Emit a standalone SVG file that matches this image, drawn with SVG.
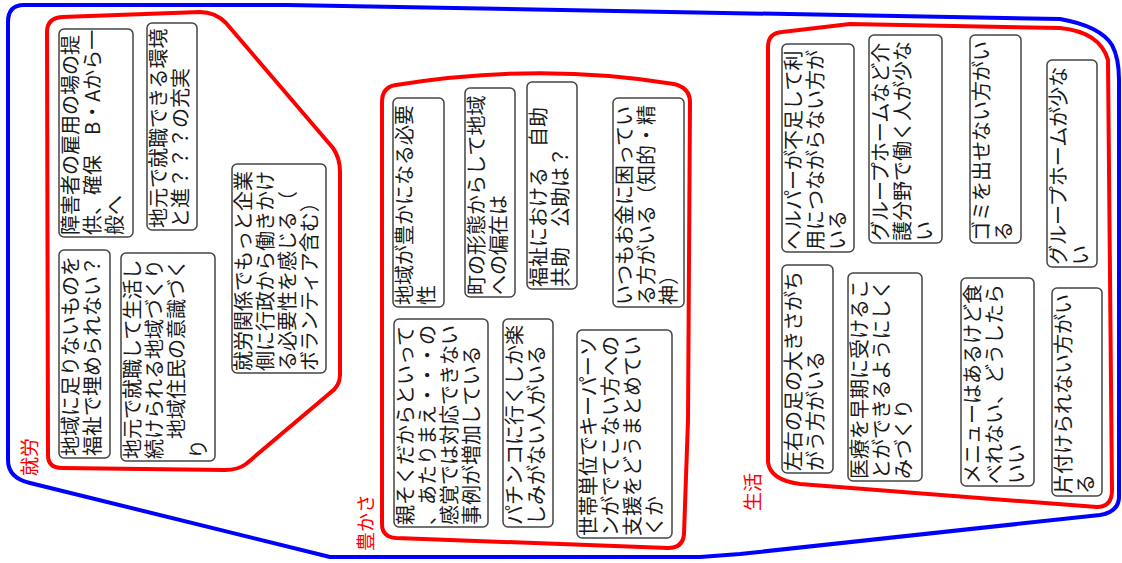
<svg xmlns="http://www.w3.org/2000/svg" width="1122" height="563" viewBox="0 0 1122 563">
<style>
.box{fill:#fff;stroke:#444;stroke-width:1.5}
.t{font-family:"Noto Sans CJK JP","Noto Sans CJK SC",sans-serif;font-size:20px;fill:#1a1a1a}
.grp{fill:none;stroke:#f00;stroke-width:4;stroke-linejoin:round}
.outer{fill:none;stroke:#00f;stroke-width:4;stroke-linejoin:round}
.lbl{font-family:"Noto Sans CJK JP","Noto Sans CJK SC",sans-serif;font-size:19px;fill:#f00}
</style>
<rect width="1122" height="563" fill="#fff"/>
<g id="groups">
<path id="g-outer" class="outer" d="M8,22 Q8,5 24,5 L287,5 L1060,19 Q1100,26 1112,45 Q1119,58 1119,80 L1119,498 Q1118,512 1100,515 L740,554 L700,557 L330,557 L30,483 Q8,478 8,460 Z"/>
<path id="g-work" class="grp" d="M47,32 Q47,18 62,17 L200,12 Q215,12 226,23 L333,148 Q340,158 340,172 L340,375 Q340,386 330,393 L246,464 Q238,470 225,470 L62,468 Q48,468 48,455 Z"/>
<path id="g-rich" class="grp" d="M382,102 Q382,87 396,85 Q540,62 674,84 Q690,88 690,102 L688,420 L684,534 Q683,548 668,548 L396,538 Q382,537 382,524 Z"/>
<path id="g-life" class="grp" d="M768,47 Q768,33 782,32 L850,24 L1060,28 Q1100,32 1108,60 L1112,490 Q1112,507 1097,507 L800,484 Q770,480 768,462 Z"/>
<text class="lbl" transform="translate(37,476) rotate(-90)">就労</text>
<text class="lbl" transform="translate(373,551) rotate(-90)">豊かさ</text>
<text class="lbl" transform="translate(760,511) rotate(-90)">生活</text>
</g>
<g id="connectors"></g>
<g id="n-a"><rect class="box" x="59" y="29" width="74" height="208" rx="5"/><text class="t" transform="translate(78,235) rotate(-90)"><tspan x="0" y="0">障害者の雇用の場の提</tspan><tspan x="0" y="22">供、確保　B・Aから一</tspan><tspan x="0" y="44">般へ</tspan></text></g>
<g id="n-b"><rect class="box" x="147" y="23" width="50" height="207" rx="5"/><text class="t" transform="translate(166,228) rotate(-90)"><tspan x="0" y="0">地元で就職できる環境</tspan><tspan x="0" y="22">と進？？？の充実</tspan></text></g>
<g id="n-c"><rect class="box" x="232" y="164" width="94" height="209" rx="5"/><text class="t" transform="translate(251,371) rotate(-90)"><tspan x="0" y="0">就労関係でもっと企業</tspan><tspan x="0" y="22">側に行政から働きかけ</tspan><tspan x="0" y="44">る必要性を感じる（</tspan><tspan x="0" y="66">ボランティア含む）</tspan></text></g>
<g id="n-d"><rect class="box" x="59" y="250" width="51" height="208" rx="5"/><text class="t" transform="translate(78,456) rotate(-90)"><tspan x="0" y="0">地域に足りないものを</tspan><tspan x="0" y="22">福祉で埋められない？</tspan></text></g>
<g id="n-e"><rect class="box" x="121" y="253" width="94" height="208" rx="5"/><text class="t" transform="translate(140,459) rotate(-90)"><tspan x="0" y="0">地元で就職して生活し</tspan><tspan x="0" y="22">続けられる地域づくり</tspan><tspan x="0" y="44">　地域住民の意識づく</tspan><tspan x="0" y="66">り</tspan></text></g>
<g id="n-f"><rect class="box" x="393" y="98" width="51" height="209" rx="5"/><text class="t" transform="translate(412,305) rotate(-90)"><tspan x="0" y="0">地域が豊かになる必要</tspan><tspan x="0" y="22">性</tspan></text></g>
<g id="n-g"><rect class="box" x="465" y="88" width="50" height="209" rx="5"/><text class="t" transform="translate(484,295) rotate(-90)"><tspan x="0" y="0">町の形態からして地域</tspan><tspan x="0" y="22">への偏在は</tspan></text></g>
<g id="n-h"><rect class="box" x="527" y="82" width="50" height="207" rx="5"/><text class="t" transform="translate(546,287) rotate(-90)"><tspan x="0" y="0">福祉における　自助</tspan><tspan x="0" y="22">共助　公助は？</tspan></text></g>
<g id="n-i"><rect class="box" x="613" y="98" width="71" height="209" rx="5"/><text class="t" transform="translate(632,305) rotate(-90)"><tspan x="0" y="0">いつもお金に困ってい</tspan><tspan x="0" y="22">る方がいる（知的・精</tspan><tspan x="0" y="44">神）</tspan></text></g>
<g id="n-j"><rect class="box" x="394" y="319" width="94" height="208" rx="5"/><text class="t" transform="translate(413,525) rotate(-90)"><tspan x="0" y="0">親そくだからといって</tspan><tspan x="0" y="22">、あたりまえ・・・の</tspan><tspan x="0" y="44">感覚では対応できない</tspan><tspan x="0" y="66">事例が増加している</tspan></text></g>
<g id="n-k"><rect class="box" x="503" y="319" width="50" height="208" rx="5"/><text class="t" transform="translate(522,525) rotate(-90)"><tspan x="0" y="0">パチンコに行くしか楽</tspan><tspan x="0" y="22">しみがない人がいる</tspan></text></g>
<g id="n-l"><rect class="box" x="577" y="330" width="95" height="208" rx="5"/><text class="t" transform="translate(596,536) rotate(-90)"><tspan x="0" y="0">世帯単位でキーパーソ</tspan><tspan x="0" y="22">ンがでてこない方への</tspan><tspan x="0" y="44">支援をどうまとめてい</tspan><tspan x="0" y="66">くか</tspan></text></g>
<g id="n-m"><rect class="box" x="782" y="44" width="72" height="208" rx="5"/><text class="t" transform="translate(801,250) rotate(-90)"><tspan x="0" y="0">ヘルパーが不足して利</tspan><tspan x="0" y="22">用につながらない方が</tspan><tspan x="0" y="44">いる</tspan></text></g>
<g id="n-n"><rect class="box" x="869" y="35" width="73" height="208" rx="5"/><text class="t" transform="translate(888,241) rotate(-90)"><tspan x="0" y="0">グループホームなど介</tspan><tspan x="0" y="22">護分野で働く人が少な</tspan><tspan x="0" y="44">い</tspan></text></g>
<g id="n-o"><rect class="box" x="970" y="35" width="51" height="208" rx="5"/><text class="t" transform="translate(989,241) rotate(-90)"><tspan x="0" y="0">ゴミを出せない方がい</tspan><tspan x="0" y="22">る</tspan></text></g>
<g id="n-p"><rect class="box" x="1047" y="60" width="50" height="207" rx="5"/><text class="t" transform="translate(1066,265) rotate(-90)"><tspan x="0" y="0">グループホームが少な</tspan><tspan x="0" y="22">い</tspan></text></g>
<g id="n-q"><rect class="box" x="782" y="265" width="51" height="208" rx="5"/><text class="t" transform="translate(801,471) rotate(-90)"><tspan x="0" y="0">左右の足の大きさがち</tspan><tspan x="0" y="22">がう方がいる</tspan></text></g>
<g id="n-r"><rect class="box" x="848" y="273" width="74" height="208" rx="5"/><text class="t" transform="translate(867,479) rotate(-90)"><tspan x="0" y="0">医療を早期に受けるこ</tspan><tspan x="0" y="22">とができるようにしく</tspan><tspan x="0" y="44">みづくり</tspan></text></g>
<g id="n-s"><rect class="box" x="961" y="278" width="73" height="208" rx="5"/><text class="t" transform="translate(980,484) rotate(-90)"><tspan x="0" y="0">メニューはあるけど食</tspan><tspan x="0" y="22">べれない、どうしたら</tspan><tspan x="0" y="44">いい</tspan></text></g>
<g id="n-t"><rect class="box" x="1052" y="288" width="50" height="208" rx="5"/><text class="t" transform="translate(1071,494) rotate(-90)"><tspan x="0" y="0">片付けられない方がい</tspan><tspan x="0" y="22">る</tspan></text></g>
</svg>
